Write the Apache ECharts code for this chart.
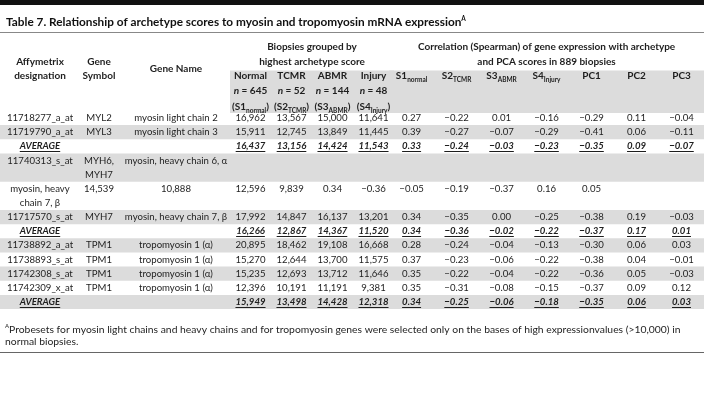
<!DOCTYPE html>
<html>
<head>
<meta charset="utf-8">
<script src="https://cdn.jsdelivr.net/npm/echarts@6/dist/echarts.min.js"></script>
<style>
html,body{margin:0;padding:0;background:#fff;}
#chart{width:704px;height:409px;}
</style>
</head>
<body>
<div id="chart"></div>
<script>
// ---------------- DATA ----------------
const titleText = 'Table 7. Relationship of archetype scores to myosin and tropomyosin mRNA expression';
const footnoteText = 'Probesets for myosin light chains and heavy chains and for tropomyosin genes were selected only on the bases of high expressionvalues (>10,000) in\nnormal biopsies.';

const leftHeaders = ['Affymetrix\ndesignation', 'Gene\nSymbol', 'Gene Name'];
const groupHeaders = ['Biopsies grouped by\nhighest archetype score',
  'Correlation (Spearman) of gene expression with archetype\nand PCA scores in 889 biopsies'];
const biopsyGroups = ['Normal', 'TCMR', 'ABMR', 'Injury'];
const biopsyN = ['645', '52', '144', '48'];
const biopsyScores = [['S1', 'normal'], ['S2', 'TCMR'], ['S3', 'ABMR'], ['S4', 'Injury']];
const corrHeaders = [['S1', 'normal'], ['S2', 'TCMR'], ['S3', 'ABMR'], ['S4', 'Injury'], ['PC1', ''], ['PC2', ''], ['PC3', '']];

const probesets = ['11718277_a_at', '11719790_a_at', 'AVERAGE', '11740313_s_at', 'myosin, heavy\nchain 7, β',
  '11717570_s_at', 'AVERAGE', '11738892_a_at', '11738893_s_at', '11742308_s_at', '11742309_x_at', 'AVERAGE'];
const geneSymbols = ['MYL2', 'MYL3', '', 'MYH6,\nMYH7', '14,539', 'MYH7', '', 'TPM1', 'TPM1', 'TPM1', 'TPM1', ''];
const geneNames = ['myosin light chain 2', 'myosin light chain 3', '', 'myosin, heavy chain 6, α', '10,888',
  'myosin, heavy chain 7, β', '', 'tropomyosin 1 (α)', 'tropomyosin 1 (α)', 'tropomyosin 1 (α)', 'tropomyosin 1 (α)', ''];

const normalExpr = ['16,962', '15,911', '16,437', '', '12,596', '17,992', '16,266', '20,895', '15,270', '15,235', '12,396', '15,949'];
const tcmrExpr   = ['13,567', '12,745', '13,156', '', '9,839', '14,847', '12,867', '18,462', '12,644', '12,693', '10,191', '13,498'];
const abmrExpr   = ['15,000', '13,849', '14,424', '', '0.34', '16,137', '14,367', '19,108', '13,700', '13,712', '11,191', '14,428'];
const injuryExpr = ['11,641', '11,445', '11,543', '', '−0.36', '13,201', '11,520', '16,668', '11,575', '11,646', '9,381', '12,318'];

const s1Corr  = ['0.27', '0.39', '0.33', '', '−0.05', '0.34', '0.34', '0.28', '0.37', '0.35', '0.35', '0.34'];
const s2Corr  = ['−0.22', '−0.27', '−0.24', '', '−0.19', '−0.35', '−0.36', '−0.24', '−0.23', '−0.22', '−0.31', '−0.25'];
const s3Corr  = ['0.01', '−0.07', '−0.03', '', '−0.37', '0.00', '−0.02', '−0.04', '−0.06', '−0.04', '−0.08', '−0.06'];
const s4Corr  = ['−0.16', '−0.29', '−0.23', '', '0.16', '−0.25', '−0.22', '−0.13', '−0.22', '−0.22', '−0.15', '−0.18'];
const pc1Corr = ['−0.29', '−0.41', '−0.35', '', '0.05', '−0.38', '−0.37', '−0.30', '−0.38', '−0.36', '−0.37', '−0.35'];
const pc2Corr = ['0.11', '0.06', '0.09', '', '', '0.19', '0.17', '0.06', '0.04', '0.05', '0.09', '0.06'];
const pc3Corr = ['−0.04', '−0.11', '−0.07', '', '', '−0.03', '0.01', '0.03', '−0.01', '−0.03', '0.12', '0.03'];

// ---------------- LAYOUT / STYLE ----------------
const FONT = 'Lato, "Noto Sans", sans-serif';
const TEXT = '#1e1e1e';
const BAND = '#dcdcdc';
const LINE = 14.15;
const HLINE = 15.2;
const TOP = 40.2;
const GROUP_LINES = 2;
const HEAD_LINES = 5;
const FS = 9.6;
const HFS = 10;

const textCols = [[probesets], [geneSymbols], [geneNames],
  [normalExpr, tcmrExpr, abmrExpr, injuryExpr],
  [s1Corr, s2Corr, s3Corr, s4Corr, pc1Corr, pc2Corr, pc3Corr]];
const allCols = [].concat(...textCols);
const nLines = s => (s ? s.split('\n').length : 1);
const rowLines = probesets.map((_, r) => Math.max(...allCols.map(col => nLines(col[r]))));
const rowStart = [];
let acc = HEAD_LINES;
rowLines.forEach(n => { rowStart.push(acc); acc += n; });
const TOTAL = acc;
const isAverage = probesets.map(p => p === 'AVERAGE');

const gridDefs = [
  { left: 0, width: 80 },
  { left: 74, width: 50 },
  { left: 126, width: 100 },
  { left: 230, width: 164 },
  { left: 389.1, width: 320.8 },
  { left: 0, width: 704 }
];

const measure = document.createElement('canvas').getContext('2d');

const richBase = { fontFamily: FONT, fontSize: HFS, fontWeight: 'bold', fill: TEXT, lineHeight: HLINE };
const headerRich = {
  b: Object.assign({}, richBase),
  i: Object.assign({}, richBase, { fontStyle: 'italic' }),
  s: { fontFamily: FONT, fontSize: 6.5, fontWeight: 'bold', fill: TEXT, lineHeight: 8, verticalAlign: 'bottom' }
};

function scoreRich(pair) {
  return '{b|' + pair[0] + '}' + (pair[1] ? '{s|' + pair[1] + '}' : '');
}

function textEl(x, y, txt, extra) {
  return {
    type: 'text', x: x, y: y,
    style: Object.assign({
      text: txt, fill: TEXT, fontFamily: FONT, fontSize: HFS, fontWeight: 'bold',
      align: 'center', verticalAlign: 'middle', lineHeight: LINE
    }, extra || {})
  };
}

const series = [];

// alternating row bands
series.push({
  type: 'custom', xAxisIndex: 5, yAxisIndex: 5, z: 1, silent: true,
  encode: { x: 0, y: [1, 2] },
  data: rowStart.map((s, r) => [0, s, s + rowLines[r], r]).filter(d => d[3] % 2 === 1),
  renderItem(params, api) {
    const p0 = api.coord([0, api.value(1)]);
    const p1 = api.coord([1, api.value(2)]);
    return { type: 'rect', shape: { x: p0[0], y: p0[1], width: p1[0] - p0[0], height: p1[1] - p0[1] }, style: { fill: BAND } };
  }
});

// header bands over the numeric column groups
[3, 4].forEach(g => {
  const n = textCols[g].length;
  series.push({
    type: 'custom', xAxisIndex: g, yAxisIndex: g, z: 1, silent: true,
    encode: { x: 0, y: [1, 2] },
    data: [[0, GROUP_LINES, HEAD_LINES]],
    renderItem(params, api) {
      const half = api.size([1, 0])[0] / 2;
      const a = api.coord([0, api.value(1)]);
      const b = api.coord([n - 1, api.value(2)]);
      return { type: 'rect', shape: { x: a[0] - half, y: a[1] + 2, width: b[0] - a[0] + 2 * half, height: b[1] - a[1] }, style: { fill: BAND } };
    }
  });
});

// left headers
[0, 1, 2].forEach(g => {
  series.push({
    type: 'custom', xAxisIndex: g, yAxisIndex: g, z: 3, silent: true,
    encode: { x: 0, y: 1 },
    data: [[0, GROUP_LINES]],
    renderItem(params, api) {
      const p = api.coord([0, api.value(1)]);
      return textEl(p[0], p[1], leftHeaders[g]);
    }
  });
});

// group headers
[3, 4].forEach((g, k) => {
  const n = textCols[g].length;
  series.push({
    type: 'custom', xAxisIndex: g, yAxisIndex: g, z: 3, silent: true,
    encode: { x: 0, y: 1 },
    data: [[0, GROUP_LINES / 2]],
    renderItem(params, api) {
      const a = api.coord([0, api.value(1)]);
      const b = api.coord([n - 1, api.value(1)]);
      return textEl((a[0] + b[0]) / 2, a[1], groupHeaders[k], { lineHeight: HLINE });
    }
  });
});

// biopsy sub-headers
const biopsyHeadTexts = biopsyGroups.map((g, i) =>
  '{b|' + g + '}\n{i|n}{b| = ' + biopsyN[i] + '}\n{b|(}' + scoreRich(biopsyScores[i]) + '{b|)}');
series.push({
  type: 'custom', xAxisIndex: 3, yAxisIndex: 3, z: 3, silent: true,
  encode: { x: 0, y: 1 },
  data: biopsyHeadTexts.map((t, i) => [i, GROUP_LINES + nLines(t) / 2]),
  renderItem(params, api) {
    const c = api.value(0);
    const p = api.coord([c, api.value(1)]);
    return textEl(p[0], p[1] + 1.5, biopsyHeadTexts[c], { rich: headerRich });
  }
});

// correlation sub-headers
const corrHeadTexts = corrHeaders.map(scoreRich);
series.push({
  type: 'custom', xAxisIndex: 4, yAxisIndex: 4, z: 3, silent: true,
  encode: { x: 0, y: 1 },
  data: corrHeadTexts.map((t, i) => [i, GROUP_LINES + nLines(t) / 2]),
  renderItem(params, api) {
    const c = api.value(0);
    const p = api.coord([c, api.value(1)]);
    return textEl(p[0], p[1] + 0.5, corrHeadTexts[c], { rich: headerRich });
  }
});

// data cells
textCols.forEach((cols, g) => {
  const data = [];
  cols.forEach((col, c) => col.forEach((txt, r) => {
    if (txt) data.push([c, rowStart[r] + nLines(txt) / 2, r]);
  }));
  series.push({
    type: 'custom', xAxisIndex: g, yAxisIndex: g, z: 3, silent: true,
    encode: { x: 0, y: 1 },
    data: data,
    renderItem(params, api) {
      const c = api.value(0), r = api.value(2);
      const txt = cols[c][r];
      const p = api.coord([c, api.value(1)]);
      const avg = isAverage[r];
      const st = { fontSize: FS, fontWeight: avg ? 'bold' : 'normal', fontStyle: avg ? 'italic' : 'normal' };
      const t = textEl(p[0], p[1], txt, st);
      if (!avg) return t;
      measure.font = st.fontStyle + ' ' + st.fontWeight + ' ' + FS + 'px ' + FONT;
      const w = measure.measureText(txt).width;
      const uy = Math.round(p[1] + 5) + 0.5;
      return {
        type: 'group', children: [t, {
          type: 'line', shape: { x1: p[0] - w / 2, y1: uy, x2: p[0] + w / 2, y2: uy },
          style: { stroke: TEXT, lineWidth: 1 }
        }]
      };
    }
  });
});

const option = {
  animation: false,
  backgroundColor: '#fff',
  title: [
    {
      text: titleText + '{sup|A}', left: 1, top: 10,
      textStyle: {
        fontFamily: FONT, fontSize: 11.8, fontWeight: 'bold', color: '#111', lineHeight: 14,
        rich: { sup: { fontFamily: FONT, fontSize: 6.5, fontWeight: 'bold', color: '#111', lineHeight: 7, verticalAlign: 'top' } }
      }
    },
    {
      text: '{sup|A}' + footnoteText, left: 0, top: 318,
      textStyle: {
        fontFamily: FONT, fontSize: 10.35, fontWeight: 'normal', color: TEXT, lineHeight: 12.5,
        rich: { sup: { fontFamily: FONT, fontSize: 6, color: TEXT, lineHeight: 6, verticalAlign: 'top' } }
      }
    }
  ],
  graphic: [
    { type: 'rect', shape: { x: 0, y: 0, width: 704, height: 5 }, style: { fill: '#111' } },
    { type: 'line', shape: { x1: 0, y1: 32.5, x2: 704, y2: 32.5 }, style: { stroke: '#888', lineWidth: 1 } },
    { type: 'line', shape: { x1: 0, y1: 352.5, x2: 704, y2: 352.5 }, style: { stroke: '#666', lineWidth: 1 } }
  ],
  grid: gridDefs.map(g => ({ left: g.left, width: g.width, top: TOP, height: TOTAL * LINE, show: false })),
  xAxis: [
    { type: 'category', gridIndex: 0, data: ['Affymetrix designation'] },
    { type: 'category', gridIndex: 1, data: ['Gene Symbol'] },
    { type: 'category', gridIndex: 2, data: ['Gene Name'] },
    { type: 'category', gridIndex: 3, data: biopsyGroups },
    { type: 'category', gridIndex: 4, data: corrHeaders.map(h => h.join('')) },
    { type: 'value', gridIndex: 5, min: 0, max: 1 }
  ].map(a => Object.assign(a, { show: false })),
  yAxis: gridDefs.map((g, i) => ({ type: 'value', gridIndex: i, min: 0, max: TOTAL, inverse: true, show: false })),
  series: series
};

const chart = echarts.init(document.getElementById('chart'), null, { renderer: 'canvas' });
chart.setOption(option);
</script>
</body>
</html>
